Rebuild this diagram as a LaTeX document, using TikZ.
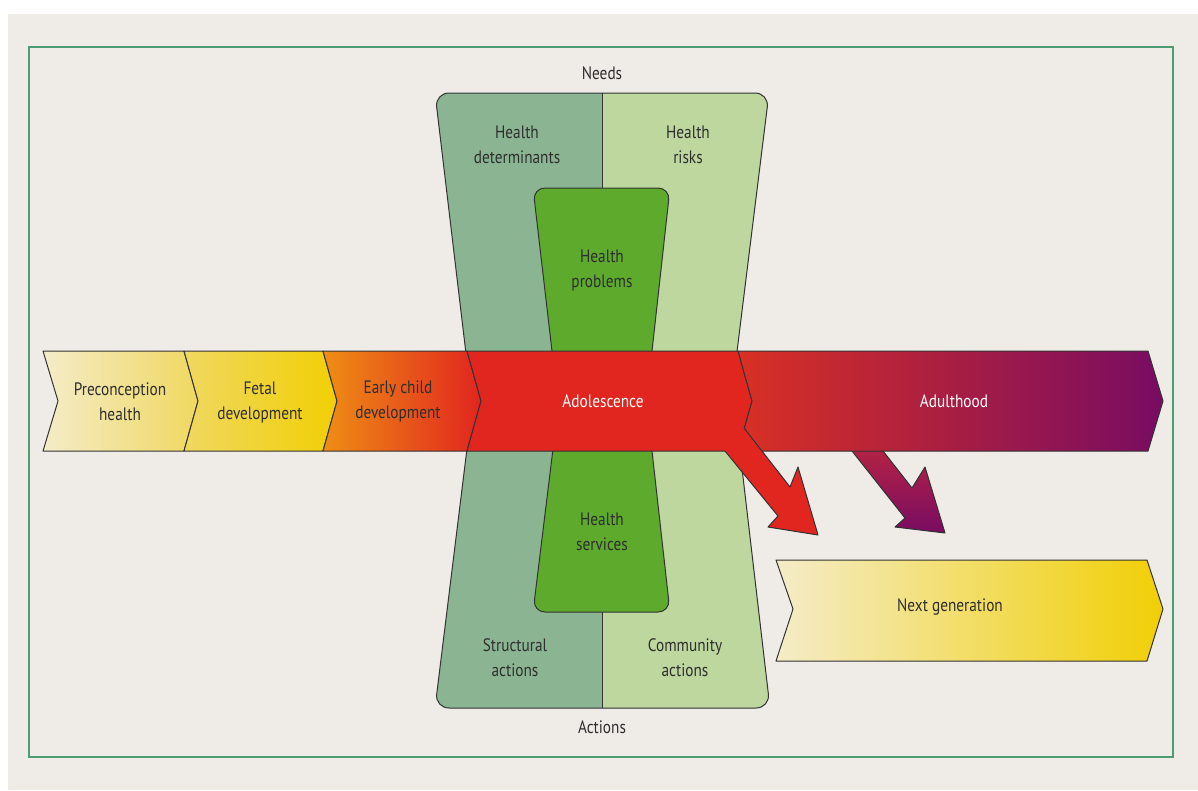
\documentclass[tikz,border=0pt]{standalone}
\usepackage{fontspec}
\setmainfont{PT Sans}[FakeStretch=0.85]
\definecolor{panel}{HTML}{EFECE8}
\definecolor{framegreen}{HTML}{4E9A72}
\definecolor{sage}{HTML}{8BB592}
\definecolor{palegreen}{HTML}{BED79F}
\definecolor{midgreen}{HTML}{5DAA2D}
\definecolor{labelgrey}{HTML}{2E2E2E}
\definecolor{cream}{HTML}{F4ECC8}
\definecolor{softyellow}{HTML}{F0D860}
\definecolor{deepyellow}{HTML}{F1CF05}
\definecolor{orange}{HTML}{EE8E14}
\definecolor{adored}{HTML}{E1251F}
\definecolor{warmred}{HTML}{D83024}
\definecolor{plum}{HTML}{780C62}
\definecolor{crimson}{HTML}{C82A3A}
\begin{document}
\begin{tikzpicture}[x=1pt,y=-1pt,
  outline/.style={draw=black!80, line width=1pt, line join=round},
  lbl/.style={align=center, inner sep=0pt, font=\fontsize{18}{25}\selectfont, text=labelgrey},
  wlbl/.style={lbl, text=white},
]
\useasboundingbox (0,0) rectangle (1198,790);
\fill[white] (0,0) rectangle (1198,790);
\fill[panel] (8,14) rectangle (1198,790);
\draw[framegreen, line width=2pt] (29,47) rectangle (1173,757);

% upper half of the hourglass (needs)
\fill[sage, rounded corners=14pt] (471.5,400) -- (435,93) -- (769,93) -- (731,400) -- cycle;
\begin{scope}
  \clip (602,0) rectangle (1198,790);
  \fill[palegreen, rounded corners=14pt] (471.5,400) -- (435,93) -- (769,93) -- (731,400) -- cycle;
\end{scope}
\draw[outline, rounded corners=14pt] (471.5,400) -- (435,93) -- (769,93) -- (731,400) -- cycle;
\draw[outline] (602,93) -- (602,188);
\filldraw[fill=midgreen, outline, rounded corners=12pt] (557.7,400) -- (533,188) -- (670,188) -- (646.6,400) -- cycle;

% lower half of the hourglass (actions)
\fill[sage, rounded corners=14pt] (473,400) -- (435,708) -- (770,708) -- (734,400) -- cycle;
\begin{scope}
  \clip (602,0) rectangle (1198,790);
  \fill[palegreen, rounded corners=14pt] (473,400) -- (435,708) -- (770,708) -- (734,400) -- cycle;
\end{scope}
\draw[outline, rounded corners=14pt] (473,400) -- (435,708) -- (770,708) -- (734,400) -- cycle;
\draw[outline] (602,612) -- (602,708);
\filldraw[fill=midgreen, outline, rounded corners=12pt] (559,400) -- (533,612) -- (670,612) -- (646.3,400) -- cycle;

% arrow from adulthood to the next generation
\shade[top color=crimson, bottom color=plum, outline]
  (828,420) -- (852,451) -- (905,518) -- (895,527) -- (945,533) -- (925,467) -- (912,488) -- (883,451) -- (859,420) -- cycle;

% life-course band
\shade[left color=cream, right color=softyellow, outline]
  (43,351) -- (184,351) -- (198,401) -- (184,451) -- (43,451) -- (58,401) -- cycle;
\shade[left color=softyellow, right color=deepyellow, outline]
  (184,351) -- (323,351) -- (337,401) -- (323,451) -- (184,451) -- (198,401) -- cycle;
\shade[left color=orange, right color=adored, outline]
  (323,351) -- (467,351) -- (481,401) -- (467,451) -- (323,451) -- (337,401) -- cycle;
\filldraw[fill=adored, outline]
  (467,351) -- (738,351) -- (752,401) -- (738,451) -- (467,451) -- (481,401) -- cycle;
\shade[left color=warmred, right color=plum, outline]
  (738,351) -- (1148,351) -- (1163,401) -- (1148,451) -- (738,451) -- (752,401) -- cycle;

% arrow from adolescence to the next generation
\fill[adored] (744,428) -- (790,487) -- (798,467) -- (818,535) -- (768,527) -- (778,516) -- (725,451) -- (720,420) -- cycle;
\draw[outline] (744,428) -- (790,487) -- (798,467) -- (818,535) -- (768,527) -- (778,516) -- (725,451);

% next generation
\shade[left color=cream, right color=deepyellow, outline]
  (776,560) -- (1147,560) -- (1163,609) -- (1147,661) -- (776,661) -- (793,609) -- cycle;

% labels
\node[lbl] (needs) at (602,73) {Needs};
\node[lbl] (actions) at (602,727) {Actions};
\node[lbl] (determinants) at (517,145) {Health\\determinants};
\node[lbl] (risks) at (688,145) {Health\\risks};
\node[lbl] (problems) at (602,270) {Health\\problems};
\node[lbl] (services) at (602,532) {Health\\services};
\node[lbl] (structural) at (515,658) {Structural\\actions};
\node[lbl] (community) at (685,658) {Community\\actions};
\node[lbl] (preconception) at (120,402) {Preconception\\health};
\node[lbl] (fetal) at (260,402) {Fetal\\development};
\node[lbl] (earlychild) at (398,401) {Early child\\development};
\node[wlbl] (adolescence) at (603,401) {Adolescence};
\node[wlbl] (adulthood) at (954,401) {Adulthood};
\node[lbl] (nextgen) at (950,607) {Next generation};
\end{tikzpicture}
\end{document}
